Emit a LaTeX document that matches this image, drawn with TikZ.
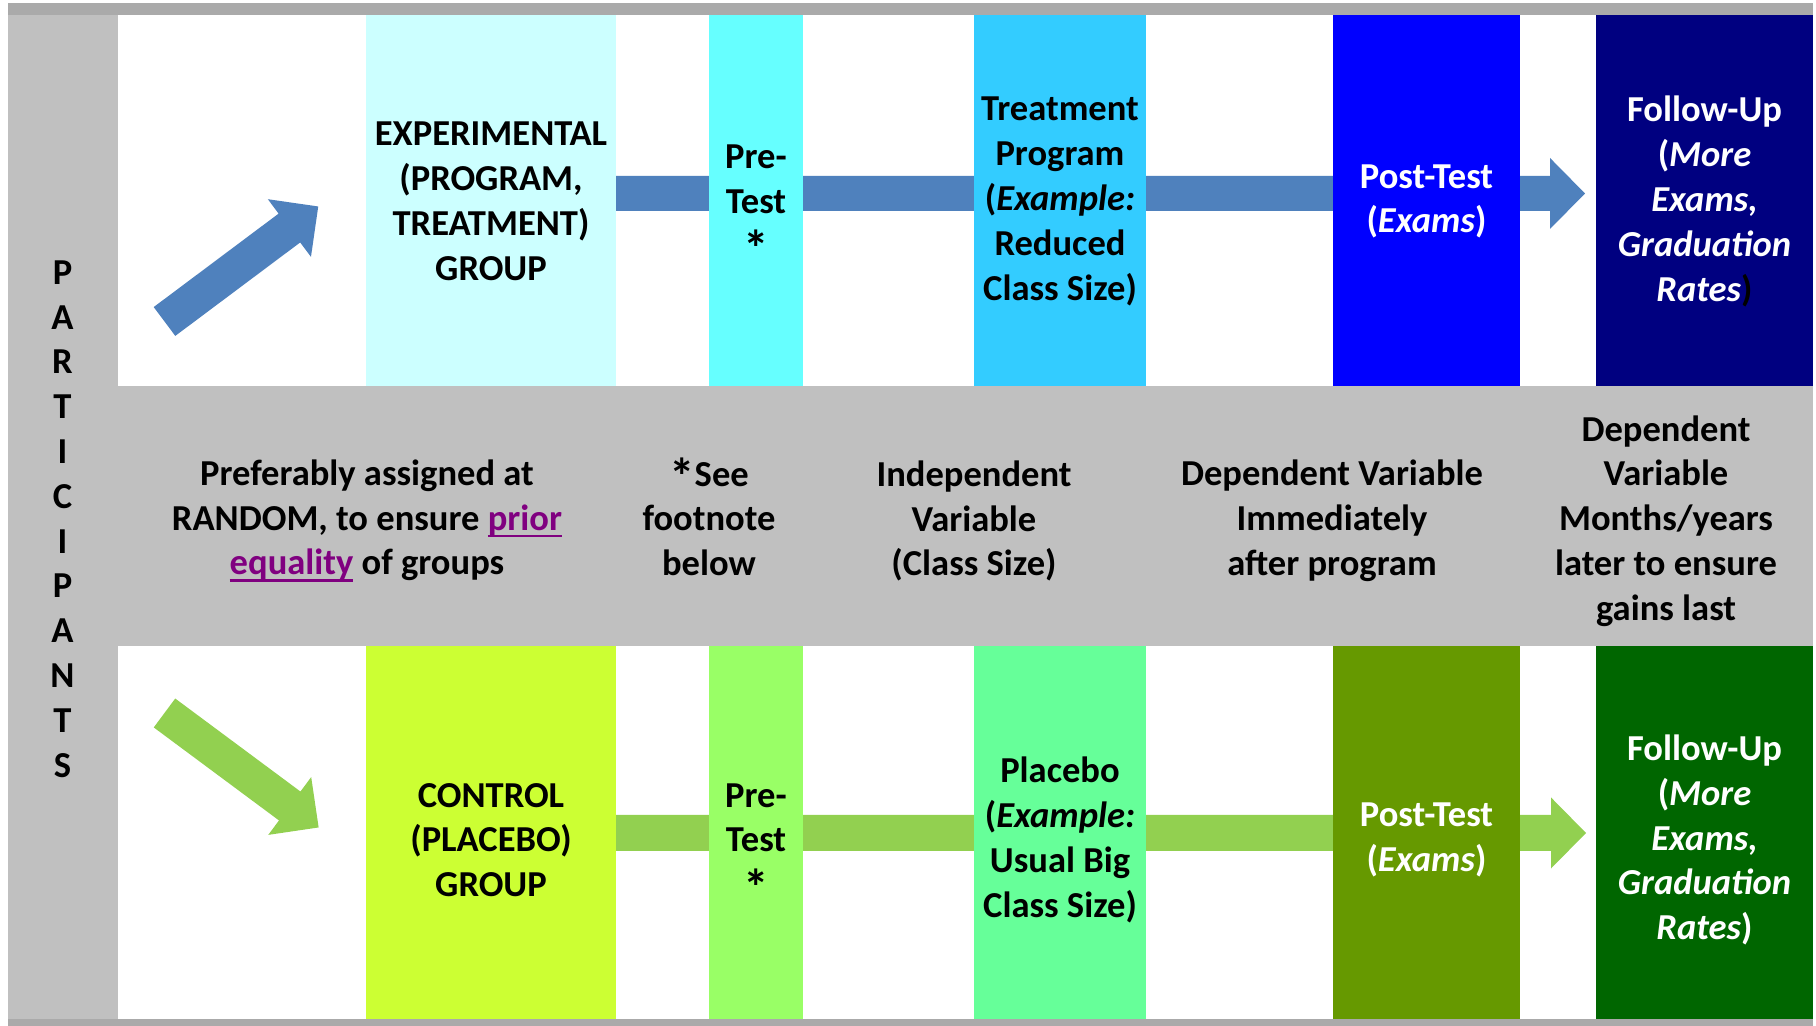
\documentclass[tikz,border=0pt]{standalone}
\usepackage{fontspec}
\usepackage{graphicx}
\setmainfont{Carlito}
\definecolor{bandgray}{HTML}{C0C0C0}
\definecolor{bargray}{HTML}{AAAAAA}
\definecolor{arrblue}{HTML}{4F81BD}
\definecolor{arrgreen}{HTML}{92D050}
\definecolor{expcol}{HTML}{CCFFFF}
\definecolor{preAcol}{HTML}{66FFFF}
\definecolor{treatcol}{HTML}{33CCFF}
\definecolor{postAcol}{HTML}{0000FF}
\definecolor{folAcol}{HTML}{000080}
\definecolor{ctrlcol}{HTML}{CCFF33}
\definecolor{preBcol}{HTML}{99FF66}
\definecolor{placcol}{HTML}{66FF99}
\definecolor{postBcol}{HTML}{669900}
\definecolor{folBcol}{HTML}{006600}
\definecolor{linkcol}{HTML}{800080}
\newcommand{\lnk}[1]{\textcolor{linkcol}{\setbox0\hbox{#1}\rlap{\rule[-2.1pt]{\wd0}{0.85pt}}\box0}}
\newcommand{\astk}{\smash{\raisebox{-2.4pt}{\scalebox{1.4}{*}}}}
\begin{document}
\begin{tikzpicture}[line join=round,font={\fontsize{10.4}{12.75}\selectfont\bfseries},
	txt/.style={align=center,inner sep=0pt}]
	\useasboundingbox (0,0) rectangle (18.16,10.26);
	%Nền bảng
	\fill[bandgray] (0.08,0.07) rectangle (18.13,10.11);
	\fill[bargray] (0.08,10.11) rectangle (18.13,10.23);
	\fill[bargray] (0.08,0) rectangle (18.13,0.07);
	\fill[white] (1.18,6.40) rectangle (18.13,10.11);
	\fill[white] (1.18,0.07) rectangle (18.13,3.80);
	%Mũi tên lên
	\path (1.645,7.045) coordinate (T1)
	(T1)++(126.8:.18) coordinate (T1a)
	(T1)++(-53.2:.18) coordinate (T1b)
	(T1)++(36.8:1.56) coordinate (H1)
	(H1)++(126.8:.18) coordinate (H1a)
	(H1)++(126.8:.36) coordinate (H1c)
	(H1)++(-53.2:.18) coordinate (H1b)
	(H1)++(-53.2:.36) coordinate (H1d)
	(T1)++(36.8:1.92) coordinate (K1);
	\fill[arrblue] (T1a)--(H1a)--(H1c)--(K1)--(H1d)--(H1b)--(T1b)--cycle;
	%Mũi tên xuống
	\path (1.645,3.13) coordinate (T2)
	(T2)++(53.4:.18) coordinate (T2a)
	(T2)++(-126.6:.18) coordinate (T2b)
	(T2)++(-36.6:1.56) coordinate (H2)
	(H2)++(53.4:.18) coordinate (H2a)
	(H2)++(53.4:.36) coordinate (H2c)
	(H2)++(-126.6:.18) coordinate (H2b)
	(H2)++(-126.6:.36) coordinate (H2d)
	(T2)++(-36.6:1.92) coordinate (K2);
	\fill[arrgreen] (T2a)--(H2a)--(H2c)--(K2)--(H2d)--(H2b)--(T2b)--cycle;
	%Mũi tên ngang trên
	\path (6.16,8.325) coordinate (S1) (15.50,8.325) coordinate (M1) (15.85,8.325) coordinate (N1);
	\fill[arrblue] (S1)++(0,-.175)--([yshift=-.175cm]M1)--([yshift=-.355cm]M1)--(N1)
	--([yshift=.355cm]M1)--([yshift=.175cm]M1)--([yshift=.175cm]S1)--cycle;
	%Mũi tên ngang dưới
	\path (6.16,1.93) coordinate (S2) (15.51,1.93) coordinate (M2) (15.86,1.93) coordinate (N2);
	\fill[arrgreen] (S2)++(0,-.18)--([yshift=-.18cm]M2)--([yshift=-.355cm]M2)--(N2)
	--([yshift=.355cm]M2)--([yshift=.18cm]M2)--([yshift=.18cm]S2)--cycle;
	%Hàng trên
	\fill[expcol] (3.66,6.40) rectangle (6.16,10.11);
	\fill[preAcol] (7.09,6.40) rectangle (8.03,10.11);
	\fill[treatcol] (9.74,6.40) rectangle (11.46,10.11);
	\fill[postAcol] (13.33,6.40) rectangle (15.20,10.11);
	\fill[folAcol] (15.96,6.40) rectangle (18.13,10.11);
	\node[txt] (exp) at (4.91,8.245) {EXPERIMENTAL\\(PROGRAM,\\TREATMENT)\\GROUP};
	\node[txt] (preA) at (7.56,8.245) {Pre-\\Test\\\astk};
	\node[txt] (treat) at (10.60,8.245) {Treatment\\Program\\(\textit{Example:}\\Reduced\\Class Size)};
	\node[txt,text=white] (postA) at (14.265,8.245) {Post-Test\\(\textit{Exams})};
	\node[txt,text=white] (folA) at (17.045,8.245) {Follow-Up\\(\textit{More}\\\textit{Exams,}\\\textit{Graduation}\\\textit{Rates}\textcolor{black}{)}};
	%Hàng dưới
	\fill[ctrlcol] (3.66,0.07) rectangle (6.16,3.80);
	\fill[preBcol] (7.09,0.07) rectangle (8.03,3.80);
	\fill[placcol] (9.74,0.07) rectangle (11.46,3.80);
	\fill[postBcol] (13.33,0.07) rectangle (15.20,3.80);
	\fill[folBcol] (15.96,0.07) rectangle (18.13,3.80);
	\node[txt] (ctrl) at (4.91,1.86) {CONTROL\\(PLACEBO)\\GROUP};
	\node[txt] (preB) at (7.56,1.86) {Pre-\\Test\\\astk};
	\node[txt] (plac) at (10.60,1.86) {Placebo\\(\textit{Example:}\\Usual Big\\Class Size)};
	\node[txt,text=white] (postB) at (14.265,1.86) {Post-Test\\(\textit{Exams})};
	\node[txt,text=white] (folB) at (17.045,1.86) {Follow-Up\\(\textit{More}\\\textit{Exams,}\\\textit{Graduation}\\\textit{Rates})};
	%Dải giữa
	\node[txt] (rand) at (3.67,5.05) {Preferably assigned at\\RANDOM, to ensure \lnk{prior}\\\lnk{equality} of groups};
	\node[txt] (foot) at (7.09,5.07) {\astk See\\footnote\\below};
	\node[txt] (indep) at (9.74,5.05) {Independent\\Variable\\(Class Size)};
	\node[txt] (depA) at (13.32,5.05) {Dependent Variable\\Immediately\\after program};
	\node[txt] (depB) at (16.66,5.05) {Dependent\\Variable\\Months/years\\later to ensure\\gains last};
	\node[txt] (part) at (0.625,5.07) {P\\A\\R\\T\\I\\C\\I\\P\\A\\N\\T\\S};
\end{tikzpicture}
\end{document}
